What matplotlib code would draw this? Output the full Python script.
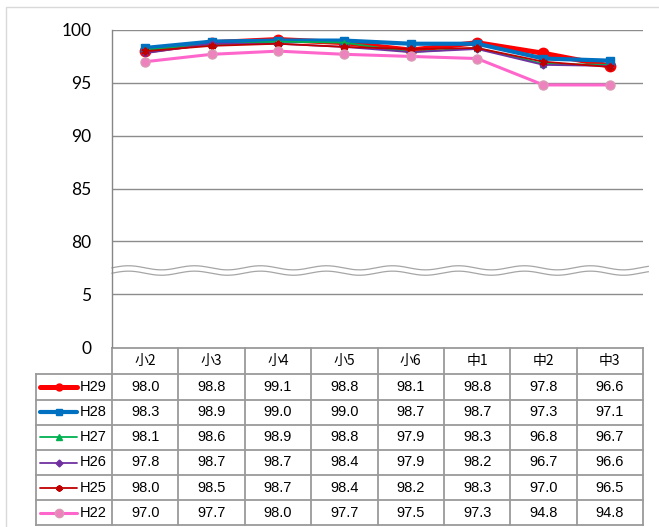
import numpy as np
import matplotlib
matplotlib.use("Agg")
import matplotlib.pyplot as plt
from matplotlib.lines import Line2D
from matplotlib.patches import Rectangle
from matplotlib.transforms import blended_transform_factory

categories = ["小2", "小3", "小4", "小5", "小6", "中1", "中2", "中3"]
series_names = ["H29", "H28", "H27", "H26", "H25", "H22"]
h29 = [98.0, 98.8, 99.1, 98.8, 98.1, 98.8, 97.8, 96.6]
h28 = [98.3, 98.9, 99.0, 99.0, 98.7, 98.7, 97.3, 97.1]
h27 = [98.1, 98.6, 98.9, 98.8, 97.9, 98.3, 96.8, 96.7]
h26 = [97.8, 98.7, 98.7, 98.4, 97.9, 98.2, 96.7, 96.6]
h25 = [98.0, 98.5, 98.7, 98.4, 98.2, 98.3, 97.0, 96.5]
h22 = [97.0, 97.7, 98.0, 97.7, 97.5, 97.3, 94.8, 94.8]
y_ticks = [0, 5, 80, 85, 90, 95, 100]

values = [h29, h28, h27, h26, h25, h22]
styles = [
    dict(color="#FF0000", lw=3.6, marker="o", ms=7.5, mfc="#FF0000", mec="#FF0000"),
    dict(color="#0070C0", lw=3.0, marker="s", ms=6, mfc="#0070C0", mec="#0070C0"),
    dict(color="#00B050", lw=1.3, marker="^", ms=4.5, mfc="#00B050", mec="#00B050"),
    dict(color="#7030A0", lw=1.3, marker="D", ms=3.5, mfc="#7030A0", mec="#7030A0"),
    dict(color="#C00000", lw=1.3, marker=(6, 2, 0), ms=5.5, mew=1.5,
         mfc="#C00000", mec="#C00000"),
    dict(color="#FF66CC", lw=2.2, marker="o", ms=6.5, mfc="#EE82BE", mec="#D99AB4"),
]
key_marker_sizes = [5, 4.5, 4, 3.5, 4.5, 6]

W, H = 659, 527


def fx(px):
    return px / W


def fy(px):
    return 1 - px / H


# broken axis: 0..5 kept, 5..80 squeezed, 80..100 kept
def fwd(v):
    v = np.asarray(v, dtype=float)
    return np.where(v <= 5, v, np.where(v >= 80, v - 70, 5 + (v - 5) * 5 / 75))


def inv(t):
    t = np.asarray(t, dtype=float)
    return np.where(t <= 5, t, np.where(t >= 10, t + 70, 5 + (t - 5) * 75 / 5))


fig = plt.figure(figsize=(W / 100, H / 100), dpi=100)
plot_left, plot_right, plot_top, plot_bottom = 112, 643, 30, 347
ax = fig.add_axes([fx(plot_left), fy(plot_bottom),
                   fx(plot_right) - fx(plot_left), fy(plot_top) - fy(plot_bottom)])
ax.set_yscale("function", functions=(fwd, inv))
ax.set_ylim(0, 100)
ax.set_xlim(-0.5, len(categories) - 0.5)
ax.set_yticks(y_ticks)
ax.set_yticklabels([str(t) for t in y_ticks], fontfamily="Lato", fontsize=12.5)
ax.set_xticks([])
ax.tick_params(axis="y", length=0, pad=15)
for side in ("top", "right", "bottom"):
    ax.spines[side].set_visible(False)
ax.spines["left"].set_color("#868686")
ax.spines["left"].set_linewidth(1.0)
for t in y_ticks[1:]:
    ax.axhline(t, color="#8C8C8C", lw=1.0, zorder=1)

x = np.arange(len(categories))
for i, (vals, st) in enumerate(zip(values, styles)):
    ax.plot(x, vals, zorder=3 + i, clip_on=False, **st)

# wavy break marks
wx = np.linspace(0, 1.01, 400)
wave = 0.0065 * np.sin(2 * np.pi * wx * (plot_right - plot_left) / 66)
yc = (plot_bottom - 270.5) / (plot_bottom - plot_top)
gap = 0.0085
ax.fill_between(wx, yc - gap + wave, yc + gap + wave, color="white",
                transform=ax.transAxes, clip_on=False, zorder=2, lw=0)
for s in (-1, 1):
    ax.plot(wx, yc + s * gap + wave, color="#A6A6A6", lw=0.9,
            transform=ax.transAxes, clip_on=False, zorder=2)

# data table
grid_c = "#9A9A9A"
bt = blended_transform_factory(ax.transData, fig.transFigure)
row_edges = [348, 374.3, 399.5, 424.7, 449.9, 475.1, 500.3, 525]
col_left = 36
n = len(categories)
ax.plot([-0.5, n - 0.5], [fy(row_edges[0])] * 2, color=grid_c, lw=1.3,
        transform=bt, clip_on=False)
for r in row_edges[1:]:
    fig.add_artist(Line2D([fx(col_left), fx(plot_right)], [fy(r), fy(r)],
                          color=grid_c, lw=1.3))
for k in range(n + 1):
    ax.plot([k - 0.5, k - 0.5], [fy(row_edges[0]), fy(row_edges[-1])],
            color=grid_c, lw=1.3, transform=bt, clip_on=False)
fig.add_artist(Line2D([fx(col_left)] * 2, [fy(row_edges[1]), fy(row_edges[-1])],
                      color=grid_c, lw=1.3))

header_mid = (row_edges[0] + row_edges[1]) / 2
for k, c in enumerate(categories):
    fig.text(k, fy(header_mid), c, transform=bt, ha="center", va="center",
             fontsize=10, fontfamily=["Noto Sans CJK JP", "DejaVu Sans"])

for i, (name, vals, st) in enumerate(zip(series_names, values, styles)):
    mid = (row_edges[i + 1] + row_edges[i + 2]) / 2
    for k, v in enumerate(vals):
        fig.text(k, fy(mid), f"{v:.1f}", transform=bt, ha="center",
                 va="center", fontsize=10.5, fontfamily="Liberation Sans")
    key = dict(st)
    key.pop("ms")
    fig.add_artist(Line2D([fx(40), fx(77)], [fy(mid), fy(mid)],
                          color=key.pop("color"), lw=key.pop("lw"),
                          solid_capstyle="round"))
    fig.add_artist(Line2D([fx(58.5)], [fy(mid)], ms=key_marker_sizes[i],
                          ls="none", **key))
    fig.text(fx(80), fy(mid), name, ha="left", va="center", fontsize=10.5,
             fontfamily="Liberation Sans")

# outer chart border
fig.add_artist(Rectangle((fx(6), fy(H + 5)), fx(W + 10) - fx(6), fy(7) - fy(H + 5),
                         fill=False, ec="#D9D9D9", lw=1.0))

fig.savefig("out.png", dpi=100)
